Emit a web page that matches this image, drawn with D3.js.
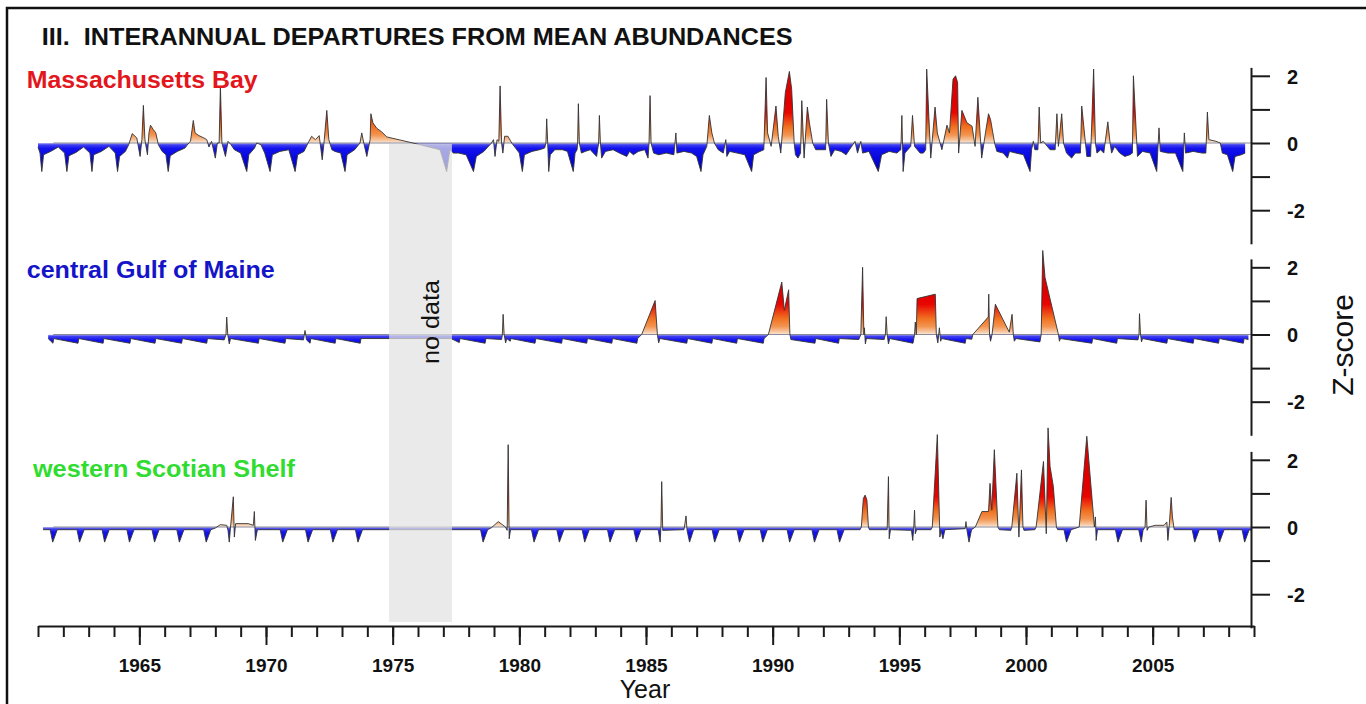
<!DOCTYPE html>
<html>
<head>
<meta charset="utf-8">
<script src="https://cdn.jsdelivr.net/npm/d3@7"></script>
<style>
  html, body { margin: 0; padding: 0; background: #fff; }
  svg { display: block; font-family: "Liberation Sans", Arial, sans-serif; }
</style>
</head>
<body>
<svg id="chart" width="1366" height="704"></svg>
<script>
// ---- Data: monthly z-score departures, [year, z] ----
const massBay = [
  [1961.0,-0.12],[1961.08,-0.3],[1961.15,-0.85],[1961.22,-0.35],[1961.5,-0.25],[1961.8,-0.12],
  [1962.05,-0.3],[1962.14,-0.85],[1962.22,-0.38],[1962.5,-0.28],[1962.8,-0.12],
  [1963.05,-0.3],[1963.13,-0.85],[1963.2,-0.35],[1963.5,-0.25],[1963.8,-0.1],
  [1964.05,-0.3],[1964.14,-0.85],[1964.22,-0.4],[1964.45,-0.25],[1964.58,-0.05],[1964.72,0.28],[1964.9,0.15],
  [1965.03,-0.4],[1965.1,0.1],[1965.16,1.12],[1965.22,0.1],[1965.32,-0.35],[1965.38,0.3],[1965.44,0.53],[1965.55,0.4],[1965.65,0.3],[1965.75,-0.05],[1965.9,-0.25],
  [1966.05,-0.35],[1966.14,-0.85],[1966.22,-0.38],[1966.5,-0.25],[1966.8,-0.15],[1966.95,0.0],
  [1967.02,0.05],[1967.13,0.67],[1967.2,0.3],[1967.35,0.22],[1967.55,0.15],[1967.66,0.1],[1967.75,-0.12],[1967.85,0.05],
  [1968.0,-0.45],[1968.08,0.0],[1968.15,0.0],[1968.2,1.7],[1968.26,0.0],[1968.4,-0.4],[1968.5,0.05],[1968.62,-0.05],[1968.75,-0.2],
  [1969.0,-0.3],[1969.24,-0.85],[1969.32,-0.35],[1969.55,-0.15],[1969.63,0.0],[1969.8,-0.05],[1969.95,-0.3],
  [1970.16,-0.85],[1970.25,-0.35],[1970.55,-0.25],[1970.9,-0.2],
  [1971.15,-0.85],[1971.25,-0.35],[1971.5,-0.25],[1971.66,0.0],[1971.8,0.2],[1971.95,0.1],
  [1972.1,0.22],[1972.22,-0.5],[1972.3,0.1],[1972.4,0.97],[1972.48,0.1],[1972.6,-0.2],[1972.72,-0.25],[1972.95,-0.3],
  [1973.12,-0.85],[1973.2,-0.35],[1973.5,-0.2],[1973.71,0.0],[1973.78,0.3],[1973.86,0.0],[1973.98,-0.4],
  [1974.11,0.1],[1974.14,0.87],[1974.22,0.6],[1974.37,0.44],[1974.57,0.33],[1974.77,0.18],[1975.8,0.0],[1976.87,-0.2],[1977.13,-0.85],[1977.26,-0.2],
  [1977.4,-0.3],[1977.6,-0.3],[1977.9,-0.35],[1978.19,-0.85],[1978.3,-0.4],[1978.6,-0.25],[1978.9,0.0],[1978.98,0.1],
  [1979.04,-0.4],[1979.12,0.1],[1979.19,0.05],[1979.24,1.7],[1979.3,0.0],[1979.35,-0.3],[1979.42,0.2],[1979.55,0.2],[1979.7,0.0],[1979.85,-0.15],
  [1980.0,-0.3],[1980.12,-0.85],[1980.2,-0.35],[1980.5,-0.25],[1980.8,-0.2],[1981.0,-0.15],
  [1981.05,0.0],[1981.08,0.72],[1981.12,0.0],[1981.16,-0.85],[1981.22,-0.35],[1981.4,-0.2],[1981.7,-0.2],[1981.9,-0.25],
  [1982.13,-0.85],[1982.2,-0.3],[1982.28,-0.2],[1982.3,0.0],[1982.33,1.17],[1982.37,0.0],[1982.45,-0.3],[1982.6,-0.25],[1982.8,-0.2],
  [1983.05,-0.4],[1983.13,0.0],[1983.16,0.82],[1983.2,0.0],[1983.25,-0.45],[1983.4,-0.25],[1983.7,-0.2],[1983.95,-0.3],
  [1984.24,-0.4],[1984.35,-0.25],[1984.5,-0.35],[1984.7,-0.25],[1984.95,-0.2],
  [1985.08,-0.45],[1985.12,0.0],[1985.16,1.41],[1985.2,0.0],[1985.3,-0.3],[1985.5,-0.35],[1985.8,-0.3],
  [1986.1,-0.35],[1986.18,0.3],[1986.22,-0.3],[1986.5,-0.25],[1986.8,-0.3],
  [1987.0,-0.4],[1987.17,-0.85],[1987.25,-0.35],[1987.4,-0.1],[1987.5,0.82],[1987.6,0.3],[1987.7,0.0],[1987.85,-0.2],
  [1988.05,-0.3],[1988.15,0.1],[1988.19,-0.4],[1988.3,-0.25],[1988.6,-0.3],[1988.9,-0.35],
  [1989.17,-0.85],[1989.25,-0.35],[1989.5,-0.25],[1989.65,-0.2],[1989.74,1.95],[1989.8,0.3],[1989.94,-0.1],
  [1990.13,1.1],[1990.22,0.2],[1990.32,-0.3],[1990.38,0.3],[1990.5,1.5],[1990.66,2.13],[1990.75,1.6],[1990.85,0.0],[1990.9,-0.35],
  [1991.0,-0.45],[1991.1,-0.3],[1991.15,1.26],[1991.24,-0.45],[1991.37,1.07],[1991.45,0.6],[1991.58,0.0],[1991.7,-0.2],[1991.95,-0.2],
  [1992.09,-0.2],[1992.13,1.3],[1992.2,0.0],[1992.3,-0.4],[1992.45,-0.2],[1992.7,-0.25],[1992.9,-0.35],
  [1993.25,0.05],[1993.35,-0.3],[1993.48,0.05],[1993.55,-0.3],[1993.8,-0.25],
  [1994.17,-0.85],[1994.3,-0.35],[1994.6,-0.25],[1994.9,-0.3],
  [1995.06,-0.2],[1995.1,0.82],[1995.15,-0.85],[1995.22,-0.3],[1995.45,-0.1],[1995.52,0.82],[1995.6,-0.1],[1995.82,-0.3],[1995.95,-0.3],
  [1996.04,-0.2],[1996.08,2.2],[1996.24,-0.45],[1996.41,1.07],[1996.5,0.3],[1996.68,-0.2],[1996.88,0.53],[1996.98,0.3],
  [1997.12,1.9],[1997.22,2.0],[1997.3,1.8],[1997.34,-0.3],[1997.47,0.97],[1997.67,0.6],[1997.87,0.5],[1997.99,-0.1],
  [1998.1,1.36],[1998.25,-0.45],[1998.4,0.3],[1998.52,0.87],[1998.6,0.7],[1998.76,0.0],[1998.85,-0.25],
  [1999.1,-0.3],[1999.27,-0.45],[1999.35,-0.25],[1999.6,-0.3],[1999.9,-0.35],
  [2000.16,-0.85],[2000.22,-0.2],[2000.29,0.05],[2000.35,-0.2],[2000.47,-0.2],[2000.52,1.07],[2000.58,0.0],[2000.68,0.05],[2000.95,-0.2],
  [2001.15,-0.2],[2001.22,0.87],[2001.28,-0.1],[2001.41,0.87],[2001.48,0.0],[2001.6,-0.3],[2001.8,-0.45],[2001.95,-0.3],
  [2002.15,-0.3],[2002.2,1.1],[2002.4,-0.4],[2002.55,-0.4],[2002.67,2.2],[2002.74,0.0],[2002.8,-0.3],[2002.95,-0.2],
  [2003.07,-0.3],[2003.23,0.63],[2003.32,0.0],[2003.38,-0.3],[2003.5,-0.1],[2003.7,-0.3],[2003.9,-0.4],
  [2004.1,-0.35],[2004.2,-0.3],[2004.24,2.0],[2004.4,-0.4],[2004.6,-0.25],[2004.9,-0.3],
  [2005.16,-0.85],[2005.25,0.45],[2005.3,-0.25],[2005.6,-0.3],[2005.9,-0.3],
  [2006.19,-0.85],[2006.25,0.3],[2006.3,-0.3],[2006.6,-0.25],[2006.95,-0.3],
  [2007.1,-0.3],[2007.16,0.92],[2007.22,0.1],[2007.5,0.05],[2007.67,0.0],[2007.75,-0.3],[2007.95,-0.35],
  [2008.16,-0.85],[2008.25,-0.4],[2008.5,-0.35],[2008.65,-0.3]
];

const centralGoM = [
  [1961.4,-0.12],
  [1961.59,-0.26],[1961.62,-0.12],[1962.58,-0.26],[1962.61,-0.12],[1963.57,-0.26],[1963.6,-0.12],
  [1964.63,-0.26],[1964.66,-0.12],[1965.62,-0.26],[1965.65,-0.12],[1966.67,-0.26],[1966.7,-0.12],
  [1967.66,-0.26],[1967.69,-0.12],
  [1968.35,-0.16],[1968.42,0.0],[1968.45,0.52],[1968.49,0.0],[1968.55,-0.28],[1968.6,-0.12],
  [1969.7,-0.26],[1969.73,-0.12],[1970.75,-0.26],[1970.78,-0.12],
  [1971.48,-0.16],[1971.54,0.12],[1971.6,-0.16],[1971.74,-0.26],[1971.77,-0.12],
  [1972.73,-0.26],[1972.76,-0.12],[1973.72,-0.26],[1973.75,-0.12],
  [1977.3,-0.12],[1977.63,-0.24],[1977.66,-0.12],
  [1978.65,-0.26],[1978.68,-0.12],
  [1979.3,-0.15],[1979.33,0.0],[1979.36,0.6],[1979.4,0.0],[1979.46,-0.25],[1979.5,-0.12],
  [1979.64,-0.2],[1979.67,-0.12],[1980.62,-0.26],[1980.65,-0.12],[1981.67,-0.26],[1981.7,-0.12],
  [1982.66,-0.26],[1982.69,-0.12],[1983.65,-0.26],[1983.68,-0.12],[1984.64,-0.26],[1984.67,-0.12],
  [1984.83,0.0],[1985.36,1.01],[1985.45,0.0],[1985.5,-0.25],[1985.55,-0.12],
  [1986.61,-0.26],[1986.64,-0.12],[1987.6,-0.26],[1987.63,-0.12],[1988.58,-0.26],[1988.61,-0.12],
  [1989.63,-0.26],[1989.66,-0.12],
  [1989.83,0.0],[1990.36,1.56],[1990.46,0.72],[1990.63,1.33],[1990.68,0.0],[1990.72,-0.15],
  [1991.67,-0.26],[1991.7,-0.12],[1992.6,-0.26],[1992.63,-0.12],
  [1993.4,-0.15],[1993.48,0.0],[1993.55,2.0],[1993.6,0.0],[1993.62,0.2],[1993.66,-0.28],[1993.7,-0.12],
  [1994.4,-0.15],[1994.45,0.0],[1994.48,0.53],[1994.52,0.0],[1994.57,-0.28],[1994.62,-0.12],
  [1995.54,-0.26],[1995.6,0.0],[1995.63,0.37],[1995.67,0.0],[1995.7,1.07],[1996.42,1.2],[1996.46,0.0],
  [1996.52,-0.25],[1996.58,0.2],[1996.63,-0.2],[1996.67,-0.12],
  [1997.6,-0.26],[1997.63,-0.12],[1997.86,-0.14],[1997.9,0.0],
  [1998.51,0.52],[1998.53,1.2],[1998.56,0.0],[1998.6,-0.2],[1998.66,0.0],[1998.79,0.9],[1999.34,0.07],
  [1999.45,0.6],[1999.5,0.0],[1999.54,-0.2],[1999.6,-0.12],
  [2000.55,-0.22],[2000.6,0.0],[2000.66,2.5],[2000.75,1.7],[2001.28,0.0],[2001.32,-0.2],[2001.36,-0.12],
  [2002.6,-0.26],[2002.63,-0.12],[2003.58,-0.26],[2003.61,-0.12],
  [2004.42,-0.16],[2004.46,0.0],[2004.48,0.62],[2004.52,0.0],[2004.56,-0.22],[2004.6,-0.12],
  [2005.56,-0.26],[2005.59,-0.12],[2006.6,-0.26],[2006.63,-0.12],[2007.6,-0.26],[2007.63,-0.12],
  [2008.58,-0.26],[2008.61,-0.12],[2008.78,-0.15]
];

const westernSS = [
  [1961.2,-0.08],
  [1961.48,-0.08],[1961.58,-0.45],[1961.76,-0.08],
  [1962.54,-0.08],[1962.64,-0.45],[1962.82,-0.08],
  [1963.53,-0.08],[1963.63,-0.45],[1963.81,-0.08],
  [1964.51,-0.08],[1964.61,-0.45],[1964.79,-0.08],
  [1965.5,-0.08],[1965.6,-0.45],[1965.78,-0.08],
  [1966.48,-0.08],[1966.58,-0.45],[1966.76,-0.08],
  [1967.54,-0.08],[1967.64,-0.45],[1967.82,-0.08],
  [1968.0,-0.03],[1968.2,0.07],[1968.45,0.05],[1968.5,-0.1],[1968.55,-0.45],[1968.6,0.0],[1968.71,0.9],[1968.75,-0.3],
  [1968.8,0.1],[1969.3,0.1],[1969.5,0.05],[1969.54,0.46],[1969.58,-0.4],[1969.66,-0.08],
  [1970.56,-0.08],[1970.66,-0.45],[1970.84,-0.08],
  [1971.56,-0.08],[1971.66,-0.45],[1971.84,-0.08],
  [1972.54,-0.08],[1972.64,-0.45],[1972.82,-0.08],
  [1973.53,-0.08],[1973.63,-0.45],[1973.81,-0.08],
  [1977.4,-0.08],
  [1978.47,-0.08],[1978.57,-0.45],[1978.75,-0.08],
  [1978.9,-0.02],[1979.17,0.16],[1979.45,0.0],[1979.52,-0.1],[1979.56,2.45],[1979.6,-0.35],[1979.65,-0.08],
  [1980.48,-0.08],[1980.58,-0.45],[1980.76,-0.08],
  [1981.48,-0.08],[1981.58,-0.45],[1981.76,-0.08],
  [1982.48,-0.08],[1982.58,-0.45],[1982.76,-0.08],
  [1983.48,-0.08],[1983.58,-0.45],[1983.76,-0.08],
  [1984.52,-0.08],[1984.62,-0.45],[1984.8,-0.08],
  [1985.48,-0.08],[1985.56,-0.45],[1985.59,0.0],[1985.62,1.35],[1985.66,-0.1],
  [1986.5,-0.08],[1986.58,0.33],[1986.62,-0.1],[1986.72,-0.45],[1986.88,-0.08],
  [1987.61,-0.08],[1987.71,-0.45],[1987.89,-0.08],
  [1988.59,-0.08],[1988.69,-0.45],[1988.87,-0.08],
  [1989.51,-0.08],[1989.61,-0.45],[1989.79,-0.08],
  [1990.57,-0.08],[1990.67,-0.45],[1990.85,-0.08],
  [1991.55,-0.08],[1991.65,-0.45],[1991.83,-0.08],
  [1992.54,-0.08],[1992.64,-0.45],[1992.82,-0.08],
  [1993.45,-0.08],[1993.5,0.0],[1993.58,0.85],[1993.65,0.95],[1993.72,0.8],[1993.78,0.0],[1993.82,-0.08],
  [1994.52,-0.08],[1994.57,1.5],[1994.6,-0.35],[1994.65,-0.08],
  [1995.48,-0.1],[1995.53,-0.4],[1995.57,0.0],[1995.6,0.5],[1995.63,-0.2],[1995.68,-0.08],
  [1996.25,-0.08],[1996.3,0.0],[1996.5,2.75],[1996.6,-0.3],[1996.65,-0.1],[1996.72,-0.35],[1996.8,-0.08],
  [1997.6,-0.05],[1997.63,0.16],[1997.67,-0.1],[1997.75,-0.45],[1997.85,-0.08],
  [1998.0,0.0],[1998.26,0.46],[1998.52,0.46],[1998.58,1.3],[1998.65,0.5],[1998.75,2.3],[1998.89,0.0],[1998.95,-0.08],
  [1999.4,-0.1],[1999.44,0.0],[1999.64,1.6],[1999.72,-0.3],[1999.82,1.7],[1999.88,0.0],[1999.92,-0.1],
  [2000.35,-0.08],[2000.4,0.0],[2000.69,1.95],[2000.8,-0.2],[2000.87,2.95],[2000.95,1.8],[2001.08,1.2],[2001.2,0.0],[2001.25,-0.08],
  [2001.5,-0.08],[2001.6,-0.45],[2001.78,-0.08],
  [2002.1,0.0],[2002.4,2.7],[2002.7,0.0],[2002.74,0.3],[2002.77,-0.4],[2002.82,-0.08],
  [2003.53,-0.08],[2003.63,-0.45],[2003.81,-0.08],
  [2004.45,-0.08],[2004.55,-0.45],[2004.62,-0.1],[2004.7,0.0],[2004.74,0.8],[2004.78,-0.1],[2004.85,0.0],
  [2005.1,0.05],[2005.45,0.05],[2005.56,0.15],[2005.6,-0.4],[2005.65,0.0],[2005.73,0.88],[2005.78,0.3],[2005.85,-0.08],
  [2006.56,-0.08],[2006.66,-0.45],[2006.84,-0.08],
  [2007.54,-0.08],[2007.64,-0.45],[2007.82,-0.08],
  [2008.53,-0.08],[2008.63,-0.45],[2008.81,-0.08],[2008.88,-0.1]
];

const regionNames = ["Massachusetts Bay", "central Gulf of Maine", "western Scotian Shelf"];
const regionColors = ["#e3161c", "#1414c8", "#2fdc2f"];
const majorYears = [1965, 1970, 1975, 1980, 1985, 1990, 1995, 2000, 2005];
const zTicks = [-2, -1, 0, 1, 2];
const zLabels = [-2, 0, 2];
const noDataSpan = [1974.86, 1977.34];

// ---- Layout ----
const svg = d3.select("#chart");
const font = '"Liberation Sans", Arial, sans-serif';
const x = d3.scaleLinear().domain([1961, 2009]).range([38, 1254]);
const axisX = 1251;
const unit = 33.6;
const panelZero = [143, 334.5, 527];
const series = [massBay, centralGoM, westernSS];
const labelPos = [[26.7, 88.3, 231], [26.7, 278.3, 248], [33, 476.7, 262]];

// outer frame
svg.append("rect").attr("x", 7).attr("y", 8).attr("width", 1380).attr("height", 720)
  .attr("fill", "none").attr("stroke", "#111").attr("stroke-width", 2.5);

// title
svg.append("text").attr("x", 41.7).attr("y", 45)
  .style("white-space", "pre").attr("xml:space", "preserve")
  .attr("font-size", 23).attr("font-weight", "bold").attr("fill", "#111")
  .attr("textLength", 751).attr("lengthAdjust", "spacingAndGlyphs")
  .text("III.  INTERANNUAL DEPARTURES FROM MEAN ABUNDANCES");

const defs = svg.append("defs");

series.forEach((data, i) => {
  const z0 = panelZero[i];
  const y = d3.scaleLinear().domain([-3, 2.25]).range([z0 + 3 * unit, z0 - 2.25 * unit]);

  // fill gradients keyed to z value
  const gp = defs.append("linearGradient").attr("id", "pos" + i)
    .attr("gradientUnits", "userSpaceOnUse")
    .attr("x1", 0).attr("x2", 0).attr("y1", y(0)).attr("y2", y(1.2));
  [[0, "#fbeee2"], [0.06, "#f7caa6"], [0.2, "#f39450"], [0.4, "#f07020"], [0.6, "#ec3410"], [0.75, "#e80600"], [1, "#e00000"]]
    .forEach(s => gp.append("stop").attr("offset", s[0]).attr("stop-color", s[1]));
  const gn = defs.append("linearGradient").attr("id", "neg" + i)
    .attr("gradientUnits", "userSpaceOnUse")
    .attr("x1", 0).attr("x2", 0).attr("y1", y(0)).attr("y2", y(-0.9));
  [[0, "#b4b4f2"], [0.06, "#4040f0"], [0.18, "#1212ee"], [0.55, "#0606da"], [1, "#0000b4"]]
    .forEach(s => gn.append("stop").attr("offset", s[0]).attr("stop-color", s[1]));

  defs.append("clipPath").attr("id", "clipPos" + i)
    .append("rect").attr("x", 0).attr("width", 1366).attr("y", 0).attr("height", y(0));
  defs.append("clipPath").attr("id", "clipNeg" + i)
    .append("rect").attr("x", 0).attr("width", 1366).attr("y", y(0)).attr("height", 704 - y(0));

  const g = svg.append("g");
  const area = d3.area().x(d => x(d[0])).y0(y(0)).y1(d => y(d[1]));
  const line = d3.line().x(d => x(d[0])).y(d => y(d[1]));

  g.append("path").datum(data).attr("d", area)
    .attr("fill", `url(#neg${i})`).attr("clip-path", `url(#clipNeg${i})`);
  g.append("path").datum(data).attr("d", area)
    .attr("fill", `url(#pos${i})`).attr("clip-path", `url(#clipPos${i})`);

  // zero reference line
  g.append("line").attr("x1", x(1961.6)).attr("x2", axisX)
    .attr("y1", y(0)).attr("y2", y(0))
    .attr("stroke", "#8a8a9a").attr("stroke-width", 1);

  g.append("path").datum(data).attr("d", line)
    .attr("fill", "none").attr("stroke", "#333").attr("stroke-width", 0.9)
    .attr("stroke-linejoin", "round");

  // right-hand z axis
  const ax = svg.append("g").attr("transform", `translate(${axisX},0)`)
    .call(d3.axisRight(y).tickValues(zTicks).tickSize(19).tickSizeOuter(0).tickPadding(17)
      .tickFormat(d => zLabels.includes(d) ? String(d) : ""));
  ax.select(".domain").attr("stroke", "#1a1a1a").attr("stroke-width", 2);
  ax.selectAll(".tick line").attr("stroke", "#1a1a1a").attr("stroke-width", 2);
  ax.selectAll(".tick text").attr("font-size", 20).attr("font-weight", "bold")
    .attr("font-family", font).attr("fill", "#111").attr("dy", "0.36em");

  // region label
  const lp = labelPos[i];
  svg.append("text").attr("x", lp[0]).attr("y", lp[1])
    .attr("font-size", 23).attr("font-weight", "bold").attr("fill", regionColors[i])
    .attr("textLength", lp[2]).attr("lengthAdjust", "spacingAndGlyphs")
    .text(regionNames[i]);
});

// no-data band (semi-transparent, over the series)
svg.append("rect")
  .attr("x", x(noDataSpan[0])).attr("width", x(noDataSpan[1]) - x(noDataSpan[0]))
  .attr("y", 144).attr("height", 622 - 144)
  .attr("fill", "rgb(226,226,226)").attr("fill-opacity", 0.72);
svg.append("text")
  .attr("transform", `translate(439,322) rotate(-90)`)
  .attr("text-anchor", "middle").attr("font-size", 23).attr("fill", "#111")
  .attr("textLength", 84).attr("lengthAdjust", "spacingAndGlyphs")
  .text("no data");

// x axis: yearly minor ticks, 5-year major ticks with labels
const axisY = 626;
const minor = svg.append("g").attr("transform", `translate(0,${axisY})`)
  .call(d3.axisBottom(x).ticks(48).tickSize(11).tickSizeOuter(0).tickFormat(""));
minor.select(".domain").attr("stroke", "#1a1a1a").attr("stroke-width", 2);
minor.selectAll(".tick line").attr("stroke", "#1a1a1a").attr("stroke-width", 2);

const major = svg.append("g").attr("transform", `translate(0,${axisY})`)
  .call(d3.axisBottom(x).tickValues(majorYears).tickSize(19).tickSizeOuter(0).tickFormat(d3.format("d")));
major.select(".domain").remove();
major.selectAll(".tick line").attr("stroke", "#1a1a1a").attr("stroke-width", 2);
major.selectAll(".tick text").attr("y", 46).attr("dy", 0)
  .attr("font-size", 19).attr("font-weight", "bold").attr("font-family", font).attr("fill", "#111");

svg.append("text").attr("x", 645).attr("y", 698).attr("text-anchor", "middle")
  .attr("font-size", 25).attr("fill", "#111").text("Year");

svg.append("text")
  .attr("transform", "translate(1353,345) rotate(-90)")
  .attr("text-anchor", "middle").attr("font-size", 30).attr("fill", "#111")
  .text("Z-score");
</script>
</body>
</html>
